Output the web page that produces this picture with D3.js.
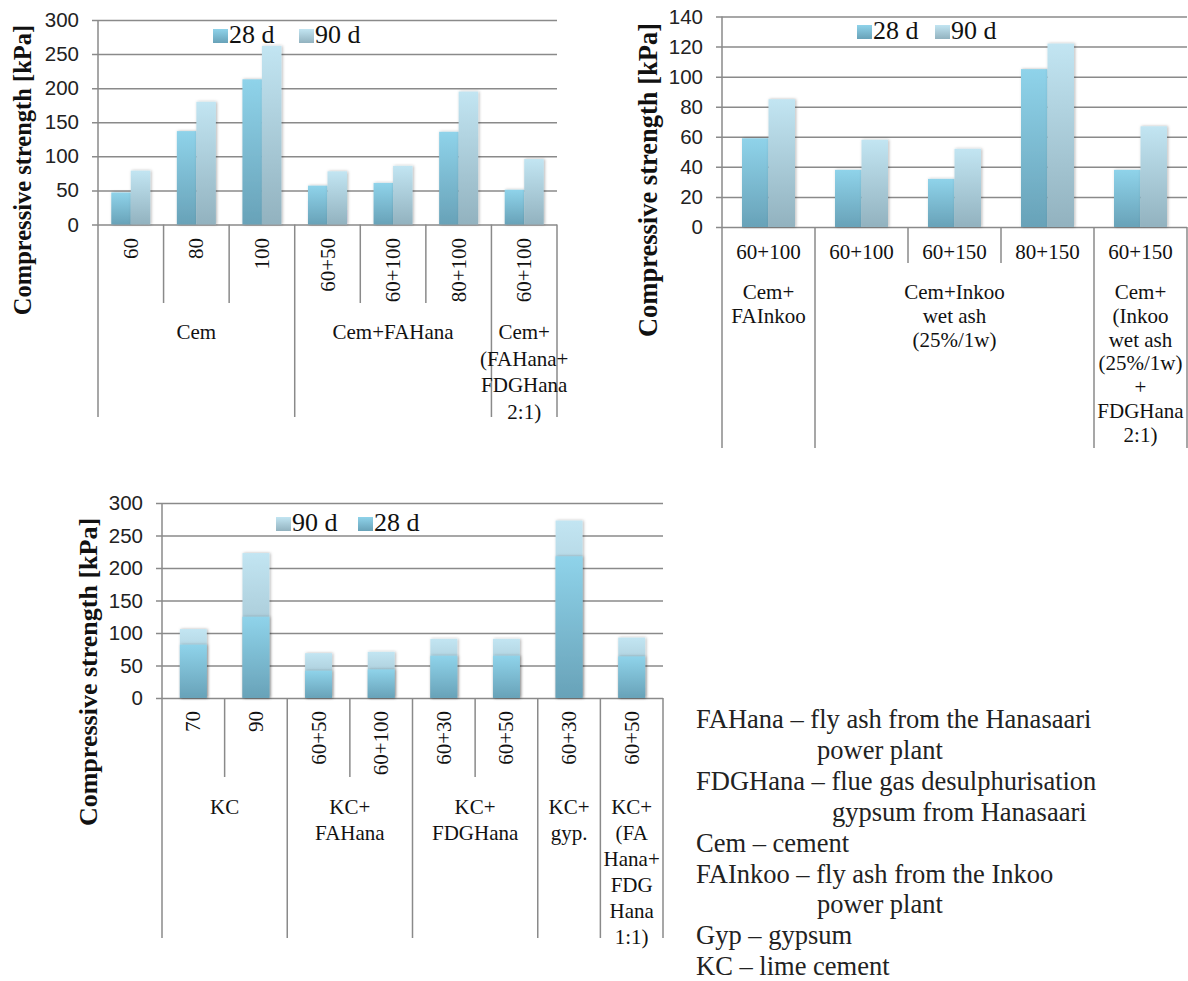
<!DOCTYPE html>
<html>
<head>
<meta charset="utf-8">
<script src="https://cdn.jsdelivr.net/npm/d3@7"></script>
<style>
  body { margin: 0; background: #fff; }
  svg { display: block; }
</style>
</head>
<body>
<svg id="fig" width="1188" height="981"></svg>
<script>
// --- donnees ---
const series = ["28 d", "90 d"];

const cemLabels = ["60", "80", "100", "60+50", "60+100", "80+100", "60+100"];
const cemGroupSpans = [3, 3, 1];
const cemGroupNames = [["Cem"], ["Cem+FAHana"], ["Cem+", "(FAHana+", "FDGHana", "2:1)"]];
const cem28 = [47, 137, 213, 57, 61, 136, 51];
const cem90 = [79, 180, 262, 78, 86, 195, 96];

const inkooLabels = ["60+100", "60+100", "60+150", "80+150", "60+150"];
const inkooGroupSpans = [1, 3, 1];
const inkooGroupNames = [["Cem+", "FAInkoo"], ["Cem+Inkoo", "wet ash", "(25%/1w)"],
  ["Cem+", "(Inkoo", "wet ash", "(25%/1w)", "+", "FDGHana", "2:1)"]];
const inkoo28 = [59, 38, 32, 105, 38];
const inkoo90 = [85, 58, 52, 122, 67];

const kcLabels = ["70", "90", "60+50", "60+100", "60+30", "60+50", "60+30", "60+50"];
const kcGroupSpans = [2, 2, 2, 1, 1];
const kcGroupNames = [["KC"], ["KC+", "FAHana"], ["KC+", "FDGHana"], ["KC+", "gyp."],
  ["KC+", "(FA", "Hana+", "FDG", "Hana", "1:1)"]];
const kc28 = [82, 125, 42, 44, 65, 65, 218, 64];
const kc90 = [106, 223, 69, 71, 91, 91, 273, 93];

const notes = [
  "FAHana \u2013 fly ash from the Hanasaari",
  "power plant",
  "FDGHana \u2013 flue gas desulphurisation",
  "gypsum from Hanasaari",
  "Cem \u2013 cement",
  "FAInkoo \u2013 fly ash from the Inkoo",
  "power plant",
  "Gyp \u2013 gypsum",
  "KC \u2013 lime cement"
];
const notesIndent = [0, 121, 0, 136, 0, 0, 121, 0, 0];

const svg = d3.select("#fig");
const serif = "'Liberation Serif', 'Times New Roman', serif";
const sans = "'Liberation Sans', Arial, sans-serif";

// degradés des barres
const defs = svg.append("defs");
const grad = [
  { id: "g28", top: "#8fd3ea", bottom: "#68a2b8" },
  { id: "g90", top: "#c2e5f2", bottom: "#92b2bf" }
];
grad.forEach(g => {
  const lg = defs.append("linearGradient").attr("id", g.id)
    .attr("x1", 0).attr("y1", 0).attr("x2", 0).attr("y2", 1);
  lg.append("stop").attr("offset", "0%").attr("stop-color", g.top);
  lg.append("stop").attr("offset", "100%").attr("stop-color", g.bottom);
});
const shadow = defs.append("filter").attr("id", "shadow")
  .attr("x", "-30%").attr("y", "-10%").attr("width", "160%").attr("height", "120%");
shadow.append("feDropShadow").attr("dx", 1).attr("dy", 0)
  .attr("stdDeviation", 1.6).attr("flood-color", "#000").attr("flood-opacity", 0.3);

function drawChart(o) {
  const g = svg.append("g");
  const n = o.labels.length;
  const y = d3.scaleLinear().domain([0, o.yMax]).range([o.y0, o.yTop]);
  const x = d3.scaleBand().domain(d3.range(n)).range([o.left, o.right])
    .paddingInner(o.pad).paddingOuter(o.pad / 2);
  const step = x.step();

  // grille + graduations
  g.append("g")
    .attr("transform", `translate(${o.right},0)`)
    .call(d3.axisLeft(y).tickValues(d3.range(0, o.yMax + 1, o.yStep))
      .tickSize(o.right - o.left + 6).tickPadding(13))
    .call(a => a.select(".domain").remove())
    .call(a => a.selectAll("line").attr("stroke", "#8a8a8a").attr("stroke-width", 1.5))
    .call(a => a.selectAll("text").attr("font-family", sans).attr("font-size", 20.5).attr("fill", "#222"));

  // axe vertical
  g.append("line").attr("x1", o.left).attr("x2", o.left)
    .attr("y1", o.yTop).attr("y2", o.y0)
    .attr("stroke", "#8a8a8a").attr("stroke-width", 1.5);

  // barres
  const sub = d3.scaleBand().domain(series).range([0, x.bandwidth()]);
  const vals = { "28 d": o.v28, "90 d": o.v90 };
  const order = o.overlap ? ["90 d", "28 d"] : ["28 d", "90 d"];
  order.forEach(s => {
    g.append("g").selectAll("rect").data(vals[s]).join("rect")
      .attr("x", (d, i) => o.overlap ? x(i) : x(i) + sub(s))
      .attr("width", o.overlap ? x.bandwidth() : sub.bandwidth())
      .attr("y", d => y(d))
      .attr("height", d => y(0) - y(d))
      .attr("fill", s === "28 d" ? "url(#g28)" : "url(#g90)")
      .attr("filter", "url(#shadow)");
  });

  // séparateurs de catégories
  const groupEdges = new Set([0]);
  let acc = 0;
  o.spans.forEach(sp => { acc += sp; groupEdges.add(acc); });
  g.append("g").selectAll("line").data(d3.range(n + 1)).join("line")
    .attr("x1", i => o.left + i * step).attr("x2", i => o.left + i * step)
    .attr("y1", o.y0)
    .attr("y2", i => groupEdges.has(i) ? o.groupEnd : o.subEnd)
    .attr("stroke", "#8a8a8a").attr("stroke-width", 1.5);

  // libellés des sous-catégories
  const lab = g.append("g").selectAll("text").data(o.labels).join("text")
    .attr("font-family", serif).attr("font-size", 21).attr("fill", "#111")
    .text(d => d);
  if (o.rotate) {
    lab.attr("text-anchor", "end")
      .attr("transform", (d, i) => `translate(${o.left + (i + 0.5) * step + 7},${o.subLabelY}) rotate(-90)`);
  } else {
    lab.attr("text-anchor", "middle")
      .attr("x", (d, i) => o.left + (i + 0.5) * step)
      .attr("y", o.subLabelY);
  }

  // libellés des groupes
  let start = 0;
  o.spans.forEach((sp, gi) => {
    const cx = o.left + (start + sp / 2) * step;
    g.append("text")
      .attr("font-family", serif).attr("font-size", 21).attr("fill", "#111")
      .attr("text-anchor", "middle")
      .selectAll("tspan").data(o.groups[gi]).join("tspan")
      .attr("x", cx)
      .attr("y", (d, k) => o.groupY + k * o.groupLine)
      .text(d => d);
    start += sp;
  });

  // titre de l'axe
  g.append("text")
    .attr("transform", `translate(${o.titleX},${o.titleY}) rotate(-90)`)
    .attr("text-anchor", "middle")
    .attr("font-family", serif).attr("font-weight", "bold").attr("font-size", o.titleSize)
    .attr("fill", "#111")
    .text("Compressive strength [kPa]");

  // légende
  o.legend.forEach(l => {
    g.append("rect").attr("x", l.x).attr("y", o.legendY - 14).attr("width", 15).attr("height", 14)
      .attr("fill", l.s === "28 d" ? "url(#g28)" : "url(#g90)");
    g.append("text").attr("x", l.x + 16).attr("y", o.legendY)
      .attr("font-family", serif).attr("font-size", 26).attr("fill", "#111")
      .text(l.s);
  });
}

drawChart({
  labels: cemLabels, spans: cemGroupSpans, groups: cemGroupNames, v28: cem28, v90: cem90,
  left: 98, right: 557, y0: 224.5, yTop: 20, yMax: 300, yStep: 50, pad: 0.405,
  rotate: true, subLabelY: 238, subEnd: 303, groupEnd: 417, groupY: 339, groupLine: 26.7,
  titleX: 31, titleY: 170, titleSize: 24.5,
  legendY: 43, legend: [{ s: "28 d", x: 213 }, { s: "90 d", x: 299 }]
});

drawChart({
  labels: inkooLabels, spans: inkooGroupSpans, groups: inkooGroupNames, v28: inkoo28, v90: inkoo90,
  left: 722, right: 1187, y0: 227, yTop: 16.5, yMax: 140, yStep: 20, pad: 0.43,
  rotate: false, subLabelY: 259, subEnd: 263, groupEnd: 448, groupY: 299, groupLine: 23.8,
  titleX: 657, titleY: 180, titleSize: 26.5,
  legendY: 39, legend: [{ s: "28 d", x: 857 }, { s: "90 d", x: 935 }]
});

drawChart({
  labels: kcLabels, spans: kcGroupSpans, groups: kcGroupNames, v28: kc28, v90: kc90, overlap: true,
  left: 162, right: 663, y0: 698, yTop: 503, yMax: 300, yStep: 50, pad: 0.57,
  rotate: true, subLabelY: 711, subEnd: 777, groupEnd: 938, groupY: 814, groupLine: 26,
  titleX: 97, titleY: 672, titleSize: 26,
  legendY: 531, legend: [{ s: "90 d", x: 276 }, { s: "28 d", x: 358 }]
});

// notes (abréviations)
svg.append("g").selectAll("text").data(notes).join("text")
  .attr("x", (d, i) => 696 + notesIndent[i])
  .attr("y", (d, i) => 728 + i * 30.9)
  .attr("font-family", serif).attr("font-size", 26.5).attr("fill", "#222")
  .text(d => d);
</script>
</body>
</html>
